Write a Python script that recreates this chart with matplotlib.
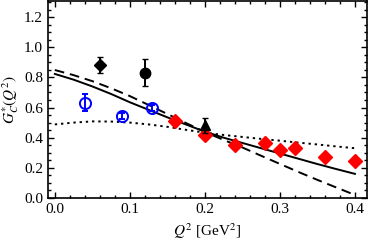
import numpy as np
import matplotlib
matplotlib.use("Agg")
import matplotlib.pyplot as plt
from matplotlib.ticker import MultipleLocator

plt.rcParams['font.family'] = ['Liberation Serif', 'DejaVu Serif']
plt.rcParams['mathtext.fontset'] = 'stix'

# model curves
q2 = [0.0, 0.025, 0.05, 0.075, 0.1, 0.125, 0.15, 0.175, 0.2,
      0.225, 0.25, 0.275, 0.3, 0.325, 0.35, 0.375, 0.4]
solid = [0.823, 0.785, 0.740, 0.690, 0.635, 0.585, 0.535, 0.487, 0.440,
         0.400, 0.365, 0.330, 0.295, 0.260, 0.225, 0.192, 0.160]
dashed = [0.849, 0.815, 0.775, 0.728, 0.676, 0.617, 0.557, 0.497, 0.438,
          0.385, 0.335, 0.280, 0.226, 0.172, 0.120, 0.070, 0.020]
dotted = [0.488, 0.500, 0.508, 0.507, 0.500, 0.488, 0.472, 0.452, 0.433,
          0.418, 0.405, 0.392, 0.380, 0.367, 0.355, 0.342, 0.330]

# data points
diam_x, diam_y, diam_e = [0.06], [0.884], [0.053]
circ_x, circ_y, circ_e = [0.12], [0.832], [0.09]
tri_x, tri_y, tri_e = [0.2], [0.483], [0.05]
blue_x = [0.04, 0.09, 0.13]
blue_y = [0.632, 0.541, 0.600]
blue_e = [0.055, 0.02, 0.02]
red_x = [0.16, 0.2, 0.24, 0.28, 0.30, 0.32, 0.36, 0.40]
red_y = [0.510, 0.420, 0.352, 0.363, 0.321, 0.330, 0.273, 0.242]

fig = plt.figure(figsize=(3.68, 2.45), dpi=100)
ax = fig.add_axes([0.130, 0.192, 0.867, 0.804])

ax.plot(q2, solid, color='black', lw=1.4)
ax.plot(q2, dashed, color='black', lw=1.4, ls=(0, (5, 3)))
ax.plot(q2, dotted, color='black', lw=1.4, ls=(0, (1.2, 2)))

ax.plot(red_x, red_y, 'D', color='red', ms=7, mec='red', zorder=4)
ax.errorbar(blue_x, blue_y, yerr=blue_e, fmt='o', mfc='none', mec='blue',
            ecolor='blue', ms=8, mew=1.4, elinewidth=1.4, capsize=2, zorder=5)
ax.errorbar(diam_x, diam_y, yerr=diam_e, fmt='D', color='black', ms=6,
            elinewidth=1.4, capsize=2, zorder=5)
ax.errorbar(circ_x, circ_y, yerr=circ_e, fmt='o', color='black', ms=7.5,
            elinewidth=1.4, capsize=2, zorder=5)
ax.errorbar(tri_x, tri_y, yerr=tri_e, fmt='^', color='black', ms=7.5,
            elinewidth=1.4, capsize=2, zorder=5)

ax.set_xlim(-0.0093, 0.416)
ax.set_ylim(0.0, 1.307)
ax.xaxis.set_major_locator(MultipleLocator(0.1))
ax.xaxis.set_minor_locator(MultipleLocator(0.02))
ax.yaxis.set_major_locator(MultipleLocator(0.2))
ax.yaxis.set_minor_locator(MultipleLocator(0.05))
ax.xaxis.set_major_formatter(plt.FuncFormatter(lambda v, p: '%.1f' % v))
ax.yaxis.set_major_formatter(plt.FuncFormatter(lambda v, p: '%.1f' % v))
ax.tick_params(which='both', direction='in', top=True, right=True,
               labelsize=11, width=1)
ax.tick_params(which='major', length=4)
ax.tick_params(which='minor', length=2)
for s in ax.spines.values():
    s.set_linewidth(1.2)

ax.set_xlabel(r'$Q^2$ [GeV$^2$]', fontsize=11, labelpad=4)
ax.set_ylabel(r'$G^{*}_{C}(Q^2)$', fontsize=11, labelpad=2)

fig.savefig('out.png', dpi=100)
